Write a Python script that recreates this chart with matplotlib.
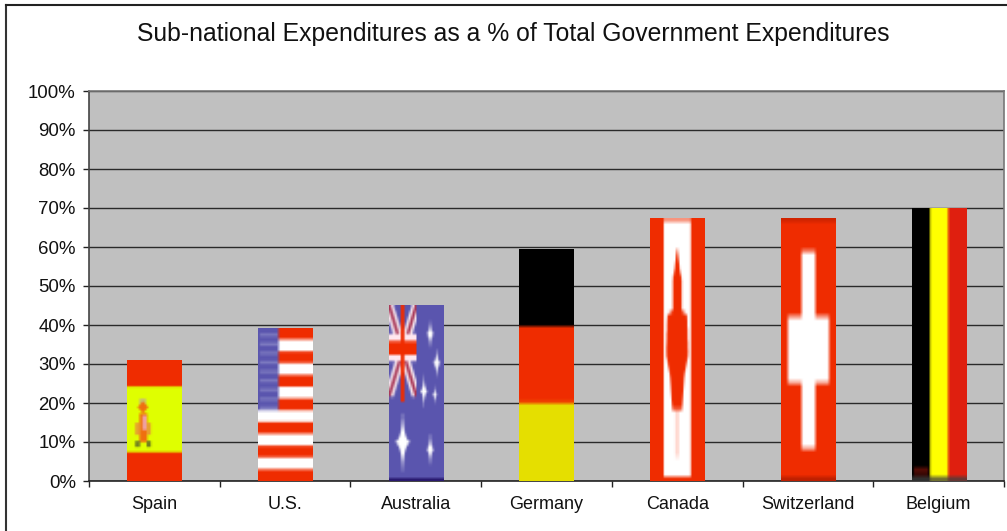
# -*- coding: utf-8 -*-
import matplotlib
matplotlib.use('Agg')
import matplotlib.pyplot as plt
from matplotlib.lines import Line2D
import numpy as np

# ---------------------------------------------------------------
# DATA

countries = ['Spain', 'U.S.', 'Australia', 'Germany', 'Canada', 'Switzerland', 'Belgium']
shares = [31.0, 39.0, 45.1, 59.3, 67.2, 67.2, 69.8]
y_ticks = [0, 10, 20, 30, 40, 50, 60, 70, 80, 90, 100]
y_labels = ['0%', '10%', '20%', '30%', '40%', '50%', '60%', '70%', '80%', '90%', '100%']
title = 'Sub-national Expenditures as a % of Total Government Expenditures'

RED = '#f02c00'
BLUE = '#5a55ae'
WHITE = '#ffffff'
BLACK = '#000000'

# ---------------------------------------------------------------
# FLAG TEXTURES (drawn on a fine grid, then averaged down so they look stretched)

HI_W, HI_H = 168, 480
STEP_X, STEP_Y = 6, 8


def rgb(c):
    return np.array(matplotlib.colors.to_rgb(c))


def grid():
    v, u = np.mgrid[0:HI_H, 0:HI_W]
    return (u + 0.5) / HI_W, (v + 0.5) / HI_H


def canvas(color):
    return np.ones((HI_H, HI_W, 3)) * rgb(color)


def rect(img, x0, x1, y0, y1, color):
    img[int(y0 * HI_H):int(y1 * HI_H), int(x0 * HI_W):int(x1 * HI_W)] = rgb(color)


def diamond(img, cx, cy, rx, ry, color=WHITE):
    u, v = grid()
    img[abs(u - cx) / rx + abs(v - cy) / ry < 1] = rgb(color)


def star(img, cx, cy, rx, ry, color=WHITE):
    u, v = grid()
    img[np.sqrt(abs(u - cx) / rx) + np.sqrt(abs(v - cy) / ry) < 1] = rgb(color)


def spain():
    img = canvas(RED)
    rect(img, 0, 1, 0.22, 0.763, '#e0ff00')
    rect(img, 0.23, 0.35, 0.32, 0.38, '#c8c070')
    diamond(img, 0.29, 0.39, 0.10, 0.05, '#f07010')
    rect(img, 0.23, 0.37, 0.44, 0.68, '#f07010')
    rect(img, 0.15, 0.24, 0.52, 0.62, '#e8a030')
    rect(img, 0.36, 0.44, 0.52, 0.62, '#e8a030')
    rect(img, 0.28, 0.36, 0.46, 0.58, '#f0a0a0')
    rect(img, 0.15, 0.24, 0.67, 0.72, '#708020')
    rect(img, 0.36, 0.44, 0.67, 0.72, '#708020')
    return img


def usa():
    img = canvas(RED)
    stripe = 1 / 13
    for k in range(1, 13, 2):
        rect(img, 0, 1, k * stripe, (k + 1) * stripe, WHITE)
    rect(img, 0, 0.38, 0, 7 * stripe, BLUE)
    for k in range(9):
        rect(img, 0.04, 0.36, (k + 0.6) * stripe * 7 / 9, (k + 0.95) * stripe * 7 / 9, '#7d7ac0')
    return img


def australia():
    img = canvas(BLUE)
    u, v = grid()
    cu, cv = u / 0.5, v / 0.52
    inside = (u < 0.5) & (v < 0.52)
    img[inside & ((abs(cu - cv) < 0.17) | (abs(cu + cv - 1) < 0.17))] = rgb('#f4e4ec')
    img[inside & ((abs(cu - cv) < 0.06) | (abs(cu + cv - 1) < 0.06))] = rgb('#a83858')
    rect(img, 0, 0.5, 0.165, 0.32, '#ffe8f0')
    rect(img, 0, 0.5, 0.205, 0.285, RED)
    rect(img, 0.215, 0.285, 0, 0.55, RED)
    for cx, cy, rx, ry in [(0.25, 0.78, 0.16, 0.22), (0.75, 0.165, 0.08, 0.11),
                           (0.87, 0.33, 0.08, 0.11), (0.635, 0.49, 0.08, 0.12),
                           (0.835, 0.51, 0.05, 0.07), (0.75, 0.82, 0.08, 0.13)]:
        star(img, cx, cy, rx, ry)
    rect(img, 0, 1, 0.985, 1, '#2a1a70')
    return img


def germany():
    img = canvas(BLACK)
    rect(img, 0, 1, 0.335, 0.665, RED)
    rect(img, 0, 1, 0.665, 1, '#e5e000')
    return img


def canada():
    img = canvas(RED)
    rect(img, 0.253, 0.747, 0.01, 0.985, WHITE)
    # half width of the maple leaf, row by row
    rows = [0.12, 0.20, 0.23, 0.35, 0.37, 0.52, 0.60, 0.73]
    half = [0.01, 0.05, 0.08, 0.08, 0.18, 0.20, 0.13, 0.09]
    u, v = grid()
    w = np.interp(v, rows, half)
    img[(abs(u - 0.495) < w) & (v > rows[0]) & (v < rows[-1])] = rgb(RED)
    rect(img, 0.46, 0.53, 0.73, 0.91, '#ffd8d0')
    return img


def switzerland():
    img = canvas(RED)
    rect(img, 0, 1, 0, 0.008, '#a01800')
    rect(img, 0.38, 0.63, 0.128, 0.879, WHITE)
    rect(img, 0.13, 0.875, 0.377, 0.628, WHITE)
    rect(img, 0, 1, 0.99, 1, '#a01800')
    return img


def belgium():
    img = canvas(BLACK)
    rect(img, 0.33, 0.66, 0, 1, '#ffff00')
    rect(img, 0.66, 1, 0, 1, '#e02010')
    rect(img, 0.04, 0.30, 0.955, 0.975, '#701008')
    rect(img, 0, 1, 0.988, 1, '#404040')
    return img


painters = [spain, usa, australia, germany, canada, switzerland, belgium]


def shrink(img):
    h, w = img.shape[0] // STEP_Y, img.shape[1] // STEP_X
    return img.reshape(h, STEP_Y, w, STEP_X, 3).mean(axis=(1, 3))


# ---------------------------------------------------------------
# CHART

plt.rcParams['font.family'] = ['Liberation Sans', 'DejaVu Sans']

fig = plt.figure(figsize=(10.07, 5.31), dpi=100)
ax = fig.add_axes([89 / 1007, 1 - 481 / 531, 915 / 1007, 390 / 531])
ax.set_facecolor('#c0c0c0')
ax.set_axisbelow(True)

positions = np.arange(len(countries)) + 0.5
bars = ax.bar(positions, shares, width=0.415, color='none', linewidth=0)
for bar, paint in zip(bars, painters):
    x0 = bar.get_x()
    ax.imshow(shrink(paint()), extent=(x0, x0 + bar.get_width(), 0, bar.get_height()),
              aspect='auto', interpolation='bilinear', zorder=3)

ax.set_xlim(0, len(countries))
ax.set_ylim(0, 100)

ax.set_yticks(y_ticks)
ax.set_yticklabels(y_labels)
ax.set_xticks(np.arange(len(countries) + 1))
ax.set_xticklabels([])
ax.set_xticks(positions, minor=True)
ax.set_xticklabels(countries, minor=True)
ax.tick_params(axis='x', which='major', length=4.5, width=1, color='#222222')
ax.tick_params(axis='x', which='minor', length=0, pad=11, labelsize=13, labelcolor='#111111')
ax.tick_params(axis='y', length=4.5, width=1, color='#222222', pad=5,
               labelsize=13.4, labelcolor='#111111')
ax.grid(axis='y', color='#2a2a2a', linewidth=1)

ax.spines['left'].set_color('#444444')
ax.spines['bottom'].set_color('#222222')
ax.spines['top'].set_color('#777777')
ax.spines['right'].set_color('#777777')
for spine in ax.spines.values():
    spine.set_linewidth(1.2)

fig.text(513.5 / 1007, 1 - 34.5 / 531, title, ha='center', va='center',
         fontsize=17.8, color='#111111')

# Frame around the chart, open at the right and bottom edges
fig.add_artist(Line2D([5.5 / 1007, 5.5 / 1007], [0, 1 - 5 / 531], color='#333333', lw=1.5))
fig.add_artist(Line2D([5.5 / 1007, 1], [1 - 5 / 531, 1 - 5 / 531], color='#222222', lw=1.5))

fig.savefig('out.png', dpi=100)
